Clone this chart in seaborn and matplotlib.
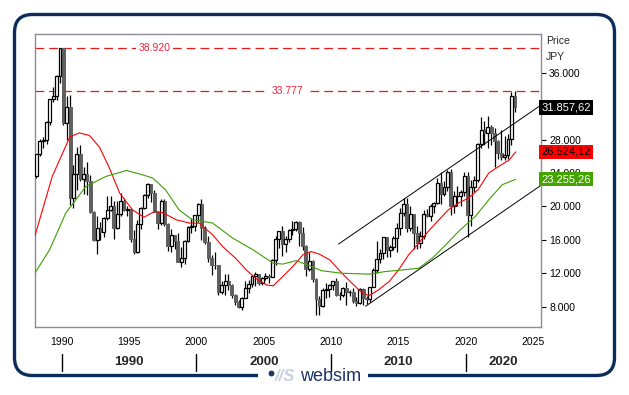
import pandas as pd
import seaborn as sns
import matplotlib.pyplot as plt
from matplotlib.patches import FancyBboxPatch, Rectangle
from matplotlib.transforms import blended_transform_factory
from matplotlib.ticker import FuncFormatter

# quarterly candles, 1988Q1 .. 2023Q3
quarters = pd.period_range("1988Q1", "2023Q3", freq="Q")

q_open = [23600, 26260, 27770, 27920, 30159, 32839, 33184, 35637,
          38916, 29980, 31940, 20984, 23849, 26292, 23291, 23916,
          22984, 19346, 15952, 17399, 16925, 18591, 19590, 20106,
          17417, 19112, 20644, 19564, 19723, 16140, 14517, 17913,
          19868, 21407, 22667, 21556, 19361, 18003, 20605, 17888,
          15259, 16527, 15830, 13406, 13842, 15837, 17530, 17605,
          18934, 20337, 17411, 15747, 13786, 12999, 12969, 9775,
          10543, 11025, 10622, 9383, 8579, 7973, 9083, 10219,
          10677, 11715, 11858, 10824, 11489, 11669, 11584, 13574,
          16111, 17060, 15505, 16128, 17226, 17288, 18138, 16786,
          15308, 12526, 13481, 11260, 8860, 8110, 9958, 10133,
          10546, 11090, 9383, 9369, 10229, 9755, 9816, 8700,
          8455, 10084, 9007, 8870, 10395, 12398, 13677, 14456,
          16291, 14828, 15162, 16174, 17451, 19207, 20236, 17388,
          19034, 16759, 15576, 16450, 19114, 18909, 20033, 20356,
          22765, 21454, 22305, 24120, 20015, 21206, 21276, 21756,
          23657, 18917, 22288, 23185, 27444, 29179, 28792, 29453,
          28792, 27821, 26393, 25937, 26095, 28041, 33189]
q_high = [26300, 28100, 28300, 30200, 32900, 34300, 35700, 38957,
          38950, 33200, 33300, 25000, 27150, 27300, 24700, 25300,
          23800, 19500, 18900, 18100, 18700, 21300, 21200, 20700,
          20700, 21550, 21000, 20000, 19800, 17200, 18400, 19900,
          21500, 22750, 22700, 22000, 19500, 20900, 20900, 18000,
          17300, 16600, 16800, 15200, 16000, 17600, 18600, 19000,
          20400, 20833, 17600, 16500, 14200, 14500, 13000, 11100,
          11900, 11900, 10700, 9500, 8800, 9200, 11100, 11200,
          11800, 12200, 11900, 11500, 12000, 11900, 13700, 16400,
          17100, 17600, 16400, 17300, 18300, 18300, 18300, 17500,
          15400, 14600, 13600, 11400, 9300, 10200, 10800, 10700,
          11100, 11400, 9800, 10400, 10900, 10000, 10200, 9100,
          10200, 10250, 9300, 10400, 12600, 15900, 14900, 16300,
          16300, 15400, 16400, 18000, 19800, 20950, 20950, 20000,
          19100, 17600, 17100, 19600, 19700, 20300, 20500, 23400,
          24130, 23100, 24300, 24450, 21900, 22400, 22000, 24100,
          24100, 23200, 23600, 27600, 30700, 30200, 30800, 29800,
          29400, 27900, 29200, 28400, 28700, 33700, 33777]
q_low = [23400, 26000, 27000, 27500, 29800, 32500, 32700, 34800,
         29800, 28000, 20200, 19781, 22000, 23000, 21500, 21400,
         19200, 15900, 14309, 16000, 16300, 18400, 19400, 16100,
         17300, 18900, 19500, 18900, 15800, 14295, 14400, 17300,
         19700, 21000, 20500, 19300, 17300, 17800, 17700, 14700,
         14500, 14900, 13400, 12787, 13100, 15800, 16800, 17000,
         18100, 16000, 15500, 13400, 11800, 12500, 9400, 9500,
         9420, 10000, 9000, 8200, 7800, 7603, 9000, 9600,
         10300, 10500, 10600, 10600, 11200, 10800, 11500, 13000,
         15000, 14050, 14500, 15700, 16600, 17000, 15300, 14800,
         11700, 12300, 11000, 6995, 7055, 8000, 9000, 9100,
         10000, 9300, 8800, 9100, 8200, 9300, 8400, 8100,
         8300, 8200, 8300, 8500, 10400, 12000, 13200, 13700,
         14000, 13900, 14800, 14500, 16600, 18900, 16900, 17000,
         14900, 14900, 15000, 16100, 18700, 18200, 19200, 20300,
         20300, 21300, 21800, 18950, 19200, 20100, 20100, 21300,
         16358, 17600, 21700, 22900, 27000, 27400, 26950, 27300,
         24700, 25700, 25500, 25600, 25700, 27400, 31300]
q_close = [26260, 27770, 27920, 30159, 32839, 33184, 35637, 38916,
           29980, 31940, 20984, 23849, 26292, 23291, 23916, 22984,
           19346, 15952, 17399, 16925, 18591, 19590, 20106, 17417,
           19112, 20644, 19564, 19723, 16140, 14517, 17913, 19868,
           21407, 22667, 21556, 19361, 18003, 20605, 17888, 15259,
           16527, 15830, 13406, 13842, 15837, 17530, 17605, 18934,
           20337, 17411, 15747, 13786, 12999, 12969, 9775, 10543,
           11025, 10622, 9383, 8579, 7973, 9083, 10219, 10677,
           11715, 11858, 10824, 11489, 11669, 11584, 13574, 16111,
           17060, 15505, 16128, 17226, 17288, 18138, 16786, 15308,
           12526, 13481, 11260, 8860, 8110, 9958, 10133, 10546,
           11090, 9383, 9369, 10229, 9755, 9816, 8700, 8455,
           10084, 9007, 8870, 10395, 12398, 13677, 14456, 16291,
           14828, 15162, 16174, 17451, 19207, 20236, 17388, 19034,
           16759, 15576, 16450, 19114, 18909, 20033, 20356, 22765,
           21454, 22305, 24120, 20015, 21206, 21276, 21756, 23657,
           18917, 22288, 23185, 27444, 29179, 28792, 29453, 28792,
           27821, 26393, 25937, 26095, 28041, 33189, 31858]

# moving averages
red_years = [1988.0, 1989.3, 1990.6, 1991.3, 1992.05, 1992.8, 1993.5, 1994.3,
             1995.25, 1996.1, 1996.9, 1997.5, 1998.5, 1999.5, 2000.2, 2001.2,
             2001.95, 2002.9, 2003.7, 2004.4, 2005.2, 2005.7, 2006.4, 2007.15,
             2007.9, 2008.5, 2009.1, 2009.9, 2010.8, 2011.55, 2012.2, 2012.8,
             2013.5, 2014.3, 2015.0, 2015.75, 2016.5, 2017.2, 2018.0, 2018.7,
             2019.45, 2020.2, 2020.9, 2021.7, 2022.4, 2023.2, 2023.7]
red_vals = [16400, 23600, 28300, 28800, 28500, 27100, 24750, 21600,
            19600, 18700, 19400, 19250, 18400, 18000, 18000, 16600,
            15200, 13800, 12400, 11400, 10600, 10500, 11600, 12800,
            14200, 14600, 14300, 13600, 12000, 10800, 9800, 9300,
            10000, 11000, 12400, 14200, 15600, 17000, 18400, 19600,
            20400, 21000, 22000, 24000, 24750, 25550, 26524]
green_years = [1988.0, 1989.1, 1990.3, 1991.8, 1993.3, 1994.8, 1995.75, 1996.75,
               1997.7, 1998.7, 1999.7, 2000.2, 2001.2, 2002.7, 2004.2, 2005.7,
               2006.4, 2007.4, 2008.4, 2009.3, 2010.8, 2012.8, 2014.0, 2015.3,
               2016.5, 2017.5, 2018.5, 2019.45, 2020.7, 2021.7, 2022.7, 2023.7]
green_vals = [12000, 14800, 19200, 22400, 23600, 24300, 23900, 23400,
              22000, 19600, 18400, 18300, 18000, 16200, 14800, 13200,
              13100, 13500, 12900, 12300, 12000, 11900, 12200, 12400,
              12600, 13800, 15400, 17000, 18800, 20800, 22600, 23255]

# trend channel
upper_x = [2010.55, 2025.55]
upper_y = [15500, 32100]
lower_x = [2012.55, 2025.55]
lower_y = [8050, 22500]

levels = [38920, 33777]
level_labels = ["38.920", "33.777"]
level_label_x = [1996.9, 2006.75]

last_labels = ["31.857,62", "26.524,12", "23.255,26"]
last_values = [31857.62, 26524.12, 23255.26]

decades = [1990, 2000, 2010, 2020]
decade_label_x = [1995, 2005, 2015, 2022.75]

sns.set_style("white")
plt.rcParams["font.family"] = ["Liberation Sans", "DejaVu Sans"]

fig = plt.figure(figsize=(6.29, 3.95), dpi=100)
ax = fig.add_axes([0.0561, 0.1722, 0.8035, 0.741])

xs = [p.year + (p.quarter - 1) / 4 + 0.125 for p in quarters]
df = pd.DataFrame({"x": xs, "o": q_open, "h": q_high, "l": q_low, "c": q_close})
up = df[df.c >= df.o]
dn = df[df.c < df.o]

ax.vlines(df.x, df.l, df.h, color="black", linewidth=0.9, zorder=3)
ax.bar(dn.x, dn.o - dn.c, bottom=dn.c, width=0.22, color="#606060",
       edgecolor="#606060", linewidth=0.7, zorder=4)
ax.bar(up.x, up.c - up.o, bottom=up.o, width=0.22, color="white",
       edgecolor="black", linewidth=0.9, zorder=4)

sns.lineplot(x=red_years, y=red_vals, color="#ff0000", linewidth=0.8, ax=ax, zorder=5)
sns.lineplot(x=green_years, y=green_vals, color="#3c9f00", linewidth=0.8, ax=ax, zorder=5)
sns.lineplot(x=upper_x, y=upper_y, color="black", linewidth=0.7, ax=ax, zorder=5)
sns.lineplot(x=lower_x, y=lower_y, color="black", linewidth=0.7, ax=ax, zorder=5)

for lv, lab, lx in zip(levels, level_labels, level_label_x):
    ax.axhline(lv, color="#e41b1b", linewidth=0.9, dashes=(7, 4), zorder=2)
    ax.text(lx, lv, lab, color="#f0203a", fontsize=7.5, ha="center", va="center",
            bbox=dict(boxstyle="square,pad=0.25", fc="white", ec="none"), zorder=6)

ax.set_xlim(1988.04, 2025.55)
ax.set_ylim(5570, 40600)
ax.set_xlabel("")
ax.set_ylabel("")

ax.yaxis.tick_right()
ax.set_yticks(range(8000, 36001, 4000))
ax.yaxis.set_major_formatter(FuncFormatter(lambda v, p: f"{v:,.0f}".replace(",", ".")))
ax.tick_params(axis="y", direction="out", length=3.5, width=0.8, pad=2.5,
               labelsize=7.5, colors="black")
ax.set_xticks(range(1990, 2026, 5))
ax.tick_params(axis="x", direction="in", length=3, width=0.8, pad=7,
               labelsize=7.5, colors="black")
for s in ax.spines.values():
    s.set_color("#8c8c9c")
    s.set_linewidth(1)

ax.text(1.0105, 0.977, "Price", transform=ax.transAxes, fontsize=7.5, va="center")
ax.text(1.0105, 0.923, "JPY", transform=ax.transAxes, fontsize=7.5, va="center")

right = blended_transform_factory(ax.transAxes, ax.transData)
box_fc = ["black", "#ff0000", "#44a400"]
box_tc = ["white", "black", "white"]
for lab, v, fc, tc in zip(last_labels, last_values, box_fc, box_tc):
    ax.text(1.002, v, lab, transform=right, fontsize=8, color=tc, ha="left", va="center",
            bbox=dict(boxstyle="square,pad=0.2", fc=fc, ec="none"), zorder=10, clip_on=False)

# decade row under the year ticks
below = blended_transform_factory(ax.transData, ax.transAxes)
for d in decades:
    ax.plot([d, d], [-0.092, -0.152], transform=below, color="black",
            linewidth=1, clip_on=False)
for d, lx in zip(decades, decade_label_x):
    ax.text(lx, -0.118, str(d), transform=below, ha="center", va="center",
            fontsize=9.5, fontweight="bold")

# outer frame and logo
bg = fig.add_axes([0, 0, 1, 1], zorder=-1)
bg.set_xlim(0, 629)
bg.set_ylim(395, 0)
bg.axis("off")
bg.add_patch(FancyBboxPatch((14.5, 14.5), 600, 361, boxstyle="round,pad=0,rounding_size=18",
                            fill=False, edgecolor="#0c2c5c", linewidth=2.4))
bg.add_patch(Rectangle((258, 368), 110, 16, facecolor="white", edgecolor="none"))
bg.plot([271], [373], marker="o", markersize=3.2, color="#1c3466")
bg.text(285, 376.5, "//S", fontsize=12, fontweight="bold", style="italic",
        color="#c7d1df", ha="center", va="center")
bg.text(331, 376.5, "websim", fontsize=13, color="#1c3466", ha="center", va="center")

fig.savefig("out.png", dpi=100)
